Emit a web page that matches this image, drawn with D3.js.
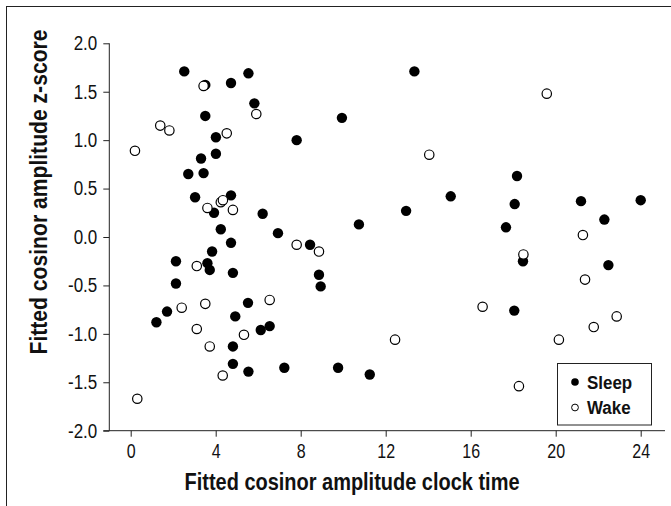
<!DOCTYPE html>
<html>
<head>
<meta charset="utf-8">
<script src="https://cdn.jsdelivr.net/npm/d3@7"></script>
<style>
  body { margin: 0; background: #fff; }
  svg { display: block; }
  .tick text { font-family: "Liberation Sans", Arial, sans-serif; font-size: 20px; fill: #111; }
  .axis-title { font-family: "Liberation Sans", Arial, sans-serif; font-weight: bold; font-size: 23px; fill: #111; }
  .legend-text { font-family: "Liberation Sans", Arial, sans-serif; font-weight: bold; font-size: 18px; fill: #111; }
</style>
</head>
<body>
<div class="chart"></div>
<script>
//==================================
// Data
//==================================
// Sleep (filled) : [clock time, z-score]
var sleepTime = [2.52, 5.54, 3.51, 4.72, 5.82, 3.51, 4.01, 7.81, 3.31, 4.01, 2.71, 3.43, 3.03, 4.72,
  3.92, 6.21, 4.24, 6.93, 4.72, 3.83, 2.13, 3.61, 3.72, 4.81, 2.13, 5.52, 1.71, 4.92, 1.21, 6.12,
  6.54, 4.81, 4.81, 7.23, 5.54, 13.35, 9.94, 15.06, 12.96, 10.74, 8.44, 8.86, 8.94, 9.76, 11.25,
  18.18, 18.07, 21.19, 24.0, 17.66, 22.29, 18.46, 22.48, 18.05];
var sleepZ = [1.71, 1.69, 1.57, 1.59, 1.38, 1.25, 1.03, 1.00, 0.81, 0.86, 0.65, 0.66, 0.41, 0.43,
  0.25, 0.24, 0.08, 0.04, -0.06, -0.15, -0.25, -0.27, -0.34, -0.37, -0.48, -0.68, -0.77, -0.82, -0.88, -0.96,
  -0.92, -1.13, -1.31, -1.35, -1.39, 1.71, 1.23, 0.42, 0.27, 0.13, -0.08, -0.39, -0.51, -1.35, -1.42,
  0.63, 0.34, 0.37, 0.38, 0.10, 0.18, -0.25, -0.29, -0.76];

// Wake (open)
var wakeTime = [3.43, 5.91, 1.39, 1.82, 4.52, 0.20, 3.61, 4.24, 4.34, 4.81, 7.81, 3.11, 6.54, 3.51,
  2.40, 3.11, 5.33, 3.72, 4.33, 0.31, 14.05, 8.86, 16.56, 12.44, 19.58, 21.28, 18.48, 21.38, 22.87,
  21.79, 20.15, 18.27];
var wakeZ = [1.56, 1.27, 1.15, 1.10, 1.07, 0.89, 0.30, 0.36, 0.38, 0.28, -0.08, -0.30, -0.65, -0.69,
  -0.73, -0.95, -1.01, -1.13, -1.43, -1.67, 0.85, -0.15, -0.72, -1.06, 1.48, 0.02, -0.18, -0.44, -0.82,
  -0.93, -1.06, -1.54];

var xTicks = [0, 4, 8, 12, 16, 20, 24];
var yTicks = [-2.0, -1.5, -1.0, -0.5, 0.0, 0.5, 1.0, 1.5, 2.0];
var legendLabels = ["Sleep", "Wake"];

//==================================
// Set up our chart
//==================================
var svgWidth = 671;
var svgHeight = 506;

var svg = d3.select(".chart")
  .append("svg")
  .attr("width", svgWidth)
  .attr("height", svgHeight);

// squeeze text horizontally to mimic the narrow face of the original
function condense(sel, factor) {
  sel.each(function() {
    var w = this.getComputedTextLength();
    d3.select(this)
      .attr("textLength", w * factor)
      .attr("lengthAdjust", "spacingAndGlyphs");
  });
}

// outer frame (only left and top edges fall inside the picture)
svg.append("rect")
  .attr("x", 6.5).attr("y", 6.5)
  .attr("width", 680).attr("height", 520)
  .attr("fill", "none")
  .attr("stroke", "#222")
  .attr("stroke-width", 1);

var xScale = d3.scaleLinear().domain([0, 24]).range([130.7, 640.7]);
var yScale = d3.scaleLinear().domain([-2, 2]).range([430.7, 43.3]);

var axisX = 109.3;  // where the y-axis sits
var axisY = 430.7;  // where the x-axis sits

// x-axis
var bottomAxis = d3.axisBottom(xScale)
  .tickValues(xTicks)
  .tickSizeInner(6)
  .tickSizeOuter(0)
  .tickPadding(7);

var gx = svg.append("g")
  .attr("transform", "translate(0," + axisY + ")")
  .call(bottomAxis);
gx.select(".domain").remove();
gx.selectAll(".tick line").attr("stroke", "#222");
condense(gx.selectAll(".tick text"), 0.8);

svg.append("line")
  .attr("x1", 103.3).attr("x2", 665)
  .attr("y1", axisY).attr("y2", axisY)
  .attr("stroke", "#222");

// y-axis (plain hyphen for negatives, like the original)
var leftAxis = d3.axisLeft(yScale)
  .tickValues(yTicks)
  .tickFormat(function(d) { return d.toFixed(1); })
  .tickSizeInner(6)
  .tickSizeOuter(0)
  .tickPadding(6);

var gy = svg.append("g")
  .attr("transform", "translate(" + axisX + ",0)")
  .call(leftAxis);
gy.select(".domain").remove();
gy.selectAll(".tick line").attr("stroke", "#222");
condense(gy.selectAll(".tick text"), 0.85);

svg.append("line")
  .attr("x1", axisX).attr("x2", axisX)
  .attr("y1", yScale(2)).attr("y2", axisY)
  .attr("stroke", "#222");

// axis titles
svg.append("text")
  .attr("class", "axis-title")
  .attr("text-anchor", "middle")
  .attr("x", 352)
  .attr("y", 490)
  .attr("textLength", 335)
  .attr("lengthAdjust", "spacingAndGlyphs")
  .text("Fitted cosinor amplitude clock time");

svg.append("text")
  .attr("class", "axis-title")
  .attr("text-anchor", "middle")
  .attr("transform", "translate(47,192) rotate(-90)")
  .attr("textLength", 325)
  .attr("lengthAdjust", "spacingAndGlyphs")
  .text("Fitted cosinor amplitude z-score");

// points
var sleepData = sleepTime.map(function(t, i) { return { t: t, z: sleepZ[i] }; });
var wakeData = wakeTime.map(function(t, i) { return { t: t, z: wakeZ[i] }; });

svg.append("g").selectAll("circle")
  .data(sleepData)
  .enter()
  .append("circle")
  .attr("cx", function(d) { return xScale(d.t); })
  .attr("cy", function(d) { return yScale(d.z); })
  .attr("r", 5.2)
  .attr("fill", "#000");

svg.append("g").selectAll("circle")
  .data(wakeData)
  .enter()
  .append("circle")
  .attr("cx", function(d) { return xScale(d.t); })
  .attr("cy", function(d) { return yScale(d.z); })
  .attr("r", 4.7)
  .attr("fill", "#fff")
  .attr("stroke", "#000")
  .attr("stroke-width", 1.2);

// legend
var legend = svg.append("g");
legend.append("rect")
  .attr("x", 557.5).attr("y", 363.5)
  .attr("width", 94).attr("height", 61.5)
  .attr("fill", "#fff")
  .attr("stroke", "#222");

legendLabels.forEach(function(label, i) {
  var cy = 382 + i * 25.5;
  legend.append("circle")
    .attr("cx", 575).attr("cy", cy)
    .attr("r", i === 0 ? 3.8 : 3.4)
    .attr("fill", i === 0 ? "#000" : "#fff")
    .attr("stroke", "#000")
    .attr("stroke-width", i === 0 ? 0 : 1);
  var t = legend.append("text")
    .attr("class", "legend-text")
    .attr("x", 587)
    .attr("y", cy + 6.5)
    .text(label);
  condense(t, 0.94);
});
</script>
</body>
</html>
